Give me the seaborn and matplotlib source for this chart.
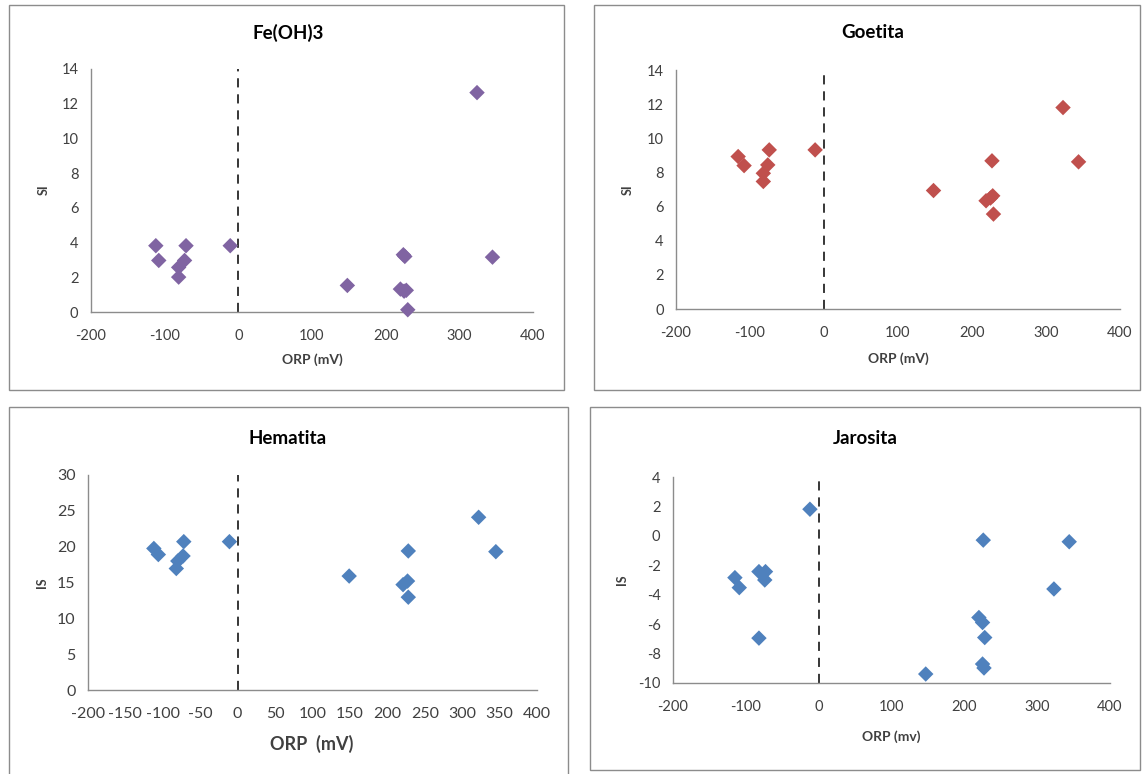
import matplotlib
matplotlib.use("Agg")
import matplotlib.pyplot as plt
from matplotlib.patches import Rectangle
import seaborn as sns
import pandas as pd
import numpy as np

# ---- data ----
orp_fe = [-112, -108, -71, -73, -81, -81, -11, 148, 224, 226, 220, 228, 225, 230, 324, 345]
si_fe = [3.82, 2.97, 3.82, 2.97, 2.57, 2.01, 3.82, 1.53, 3.30, 3.20, 1.32, 1.25, 1.20, 0.13, 12.64, 3.16]

orp_go = [-116, -108, -74, -76, -82, -82, -12, 148, 227, 219, 228, 225, 229, 323, 344]
si_go = [8.93, 8.40, 9.32, 8.44, 7.95, 7.47, 9.32, 6.94, 8.68, 6.34, 6.63, 6.50, 5.56, 11.80, 8.62]

orp_he = [-112, -106, -72, -73, -80, -82, -11, 149, 228, 221, 227, 228, 322, 345]
si_he = [19.75, 18.9, 20.7, 18.7, 18.0, 16.95, 20.7, 15.9, 19.4, 14.7, 15.2, 12.95, 24.1, 19.3]

orp_ja = [-115, -109, -82, -73, -74, -82, -12, 147, 226, 220, 225, 228, 225, 227, 323, 344]
si_ja = [-2.84, -3.52, -2.43, -2.43, -3.00, -6.95, 1.81, -9.39, -0.29, -5.55, -5.89, -6.91, -8.71, -8.98, -3.61, -0.40]

titles = ["Fe(OH)3", "Goetita", "Hematita", "Jarosita"]
xlabels = ["ORP (mV)", "ORP (mV)", "ORP  (mV)", "ORP (mv)"]
ylabels = ["SI", "SI", "IS", "IS"]
colors = ["#8064A2", "#C0504D", "#4F81BD", "#4F81BD"]
ylims = [(0, 14), (0, 14), (0, 30), (-10, 4)]
ystep = [2, 2, 5, 2]
xstep = [100, 100, 50, 100]

sns.set_theme(style="white")
plt.rcParams["font.family"] = ["Lato", "DejaVu Sans"]
plt.rcParams["axes.unicode_minus"] = False

W, H = 1142, 774
fig = plt.figure(figsize=(W / 100, H / 100), dpi=100)
fig.patch.set_facecolor("white")

def fx(x):
    return x / W

def fy(y):
    return 1 - y / H

# panel frames (pixel coords: left, top, right, bottom)
frames = [(9, 5, 564, 390), (594, 5, 1140, 390), (9, 407, 568, 790), (590, 407, 1140, 770)]
for (l, t, r, b) in frames:
    fig.patches.append(Rectangle((fx(l), fy(b)), fx(r - l), (b - t) / H,
                                 transform=fig.transFigure, fill=False,
                                 edgecolor="#8c8c8c", lw=1.0, zorder=0))

# axes areas (left, top, right, bottom in px)
areas = [(91, 69, 533, 312), (676, 70, 1120, 309), (88, 475, 537, 690), (673, 477, 1110, 683)]
title_pos = [(288, 33), (873, 33), (288, 438), (865, 438)]
xlab_pos = [(312, 360), (898, 359), (312, 744), (891, 737)]
ylab_pos = [(44, 190), (628, 190), (42, 583), (622, 580)]
series = [(orp_fe, si_fe), (orp_go, si_go), (orp_he, si_he), (orp_ja, si_ja)]

for i in range(4):
    l, t, r, b = areas[i]
    ax = fig.add_axes([fx(l), fy(b), (r - l) / W, (b - t) / H])
    df = pd.DataFrame({"ORP": series[i][0], "SI": series[i][1]})
    sns.scatterplot(data=df, x="ORP", y="SI", ax=ax, marker="D", s=62,
                    color=colors[i], edgecolor="none", linewidth=0, zorder=3,
                    clip_on=False)
    ax.set_xlim(-200, 400)
    ax.set_ylim(*ylims[i])
    ax.set_xticks(np.arange(-200, 401, xstep[i]))
    ax.set_yticks(np.arange(ylims[i][0], ylims[i][1] + 0.1, ystep[i]))
    ax.axvline(0, color="black", lw=1.1, ls=(0, (6, 4.5)), zorder=2)
    for s in ["top", "right"]:
        ax.spines[s].set_visible(False)
    for s in ["left", "bottom"]:
        ax.spines[s].set_color("#8c8c8c")
        ax.spines[s].set_linewidth(1.0)
    fs = 11.5 if i == 2 else 10.5
    ax.tick_params(axis="both", length=0, labelsize=fs, labelcolor="#404040")
    ax.tick_params(axis="y", pad=9)
    ax.tick_params(axis="x", pad=12)
    ax.set_xlabel("")
    ax.set_ylabel("")
    ax.grid(False)
    fig.text(fx(title_pos[i][0]), fy(title_pos[i][1]), titles[i], ha="center",
             va="center", fontsize=13.5, fontweight="bold", color="black")
    fig.text(fx(xlab_pos[i][0]), fy(xlab_pos[i][1]), xlabels[i], ha="center",
             va="center", fontsize=13 if i == 2 else 10, fontweight="bold",
             color="#404040")
    fig.text(fx(ylab_pos[i][0]), fy(ylab_pos[i][1]), ylabels[i], ha="center",
             va="center", fontsize=9, fontweight="bold", rotation=90,
             color="#404040")

fig.savefig("out.png", dpi=100, facecolor="white")
